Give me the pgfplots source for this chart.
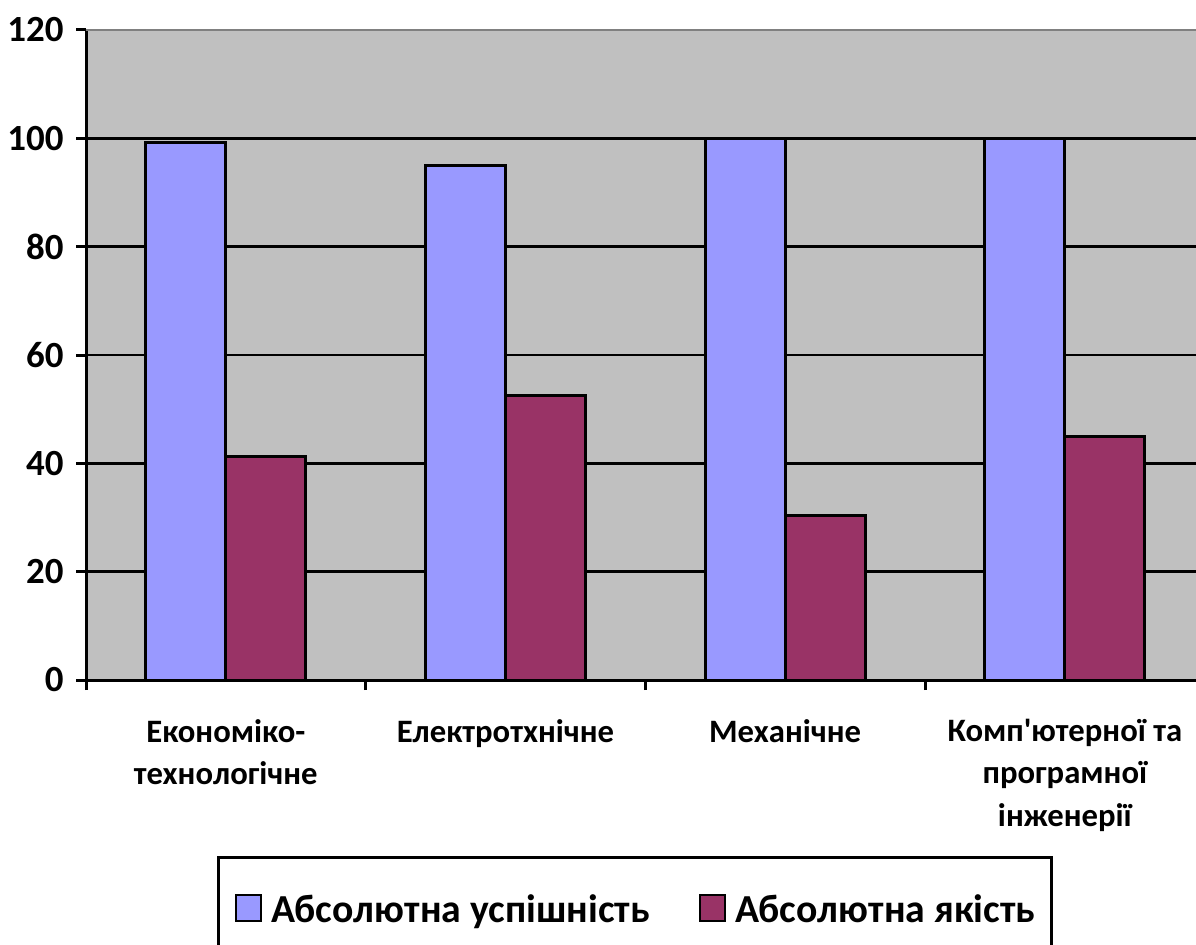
\documentclass[border=0pt]{standalone}
\usepackage{fontspec}
\setmainfont{Carlito}[Ligatures=TeXOff]
\usepackage{pgfplots}
\pgfplotsset{compat=1.18}
\definecolor{barblue}{HTML}{9999FF}
\definecolor{barred}{HTML}{993366}
\definecolor{plotgray}{HTML}{C0C0C0}
\begin{document}
\begin{tikzpicture}
\begin{axis}[
  scale only axis,
  width=111mm, height=65mm,
  xmin=-0.5, xmax=3.469,
  ymin=0, ymax=120,
  axis x line*=bottom, axis y line*=left,
  axis line style={line width=0.3mm, -},
  axis background/.style={fill=plotgray},
  ybar=0pt, bar width=8mm,
  xtick={0,1,2,3},
  xticklabels={Економіко-\\технологічне, Електротхнічне, Механічне, Комп'ютерної та\\програмної\\інженерії},
  xtick style={draw=none},
  xticklabel style={font=\fontsize{9.3}{12}\selectfont\bfseries, align=center, anchor=north, yshift=-1.7mm},
  extra x ticks={-0.5,0.5,1.5,2.5},
  extra x tick labels={},
  extra x tick style={xtick style={draw=black, line width=0.3mm}, major tick length=1mm, tick align=outside},
  ytick={0,20,...,120},
  ytick style={line width=0.3mm, black},
  tick align=outside, major tick length=1mm,
  ymajorgrids, grid style={black, line width=0.25mm},
  yticklabel style={font=\fontsize{10.5}{12}\selectfont\bfseries},
  /pgf/number format/assume math mode=true,
  legend style={at={(0.4946,-0.271)}, anchor=north, legend columns=2,
    draw=black, line width=0.3mm, fill=white,
    font=\fontsize{11.3}{13}\selectfont\bfseries,
    inner xsep=1.6mm, inner ysep=3.6mm,
    nodes={inner sep=0pt},
    /tikz/every odd column/.append style={column sep=0.9mm},
    /tikz/every even column/.append style={column sep=4.9mm}},
  legend image code/.code={\draw[#1, line width=0.25mm] (0mm,-0.95mm) rectangle (2.5mm,1.65mm);},
]
\addplot[fill=barblue, draw=black, line width=0.3mm] coordinates {(0,99.2) (1,95.0) (2,100) (3,100)};
\addplot[fill=barred, draw=black, line width=0.3mm] coordinates {(0,41.3) (1,52.5) (2,30.4) (3,44.9)};
\legend{Абсолютна успішність, Абсолютна якість}
\draw[color=gray, line width=0.3mm] (rel axis cs:0,1) -- (rel axis cs:1,1);
\end{axis}
\pgfresetboundingbox
\useasboundingbox (-8.6mm,-26.4mm) rectangle (111mm,68mm);
\end{tikzpicture}
\end{document}
